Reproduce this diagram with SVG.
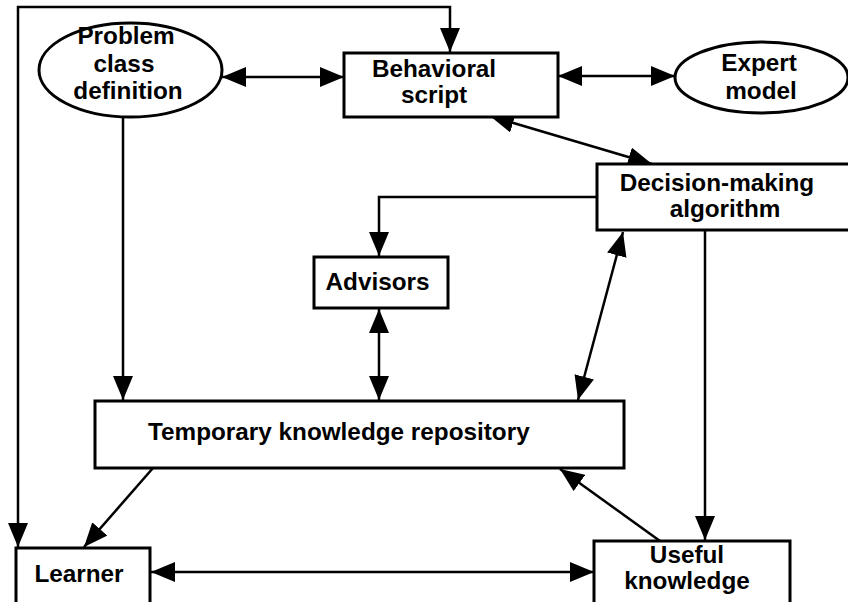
<svg xmlns="http://www.w3.org/2000/svg" width="848" height="602" viewBox="0 0 848 602">
<style>
.box{fill:#fff;stroke:#000;stroke-width:3}
.lbl{font-family:"Liberation Sans",Arial,sans-serif;font-weight:bold;font-size:24.3px;fill:#000;text-anchor:middle}
.con{fill:none;stroke:#000;stroke-width:2.5}
.a1{marker-end:url(#ah)}
.a2{marker-start:url(#ah);marker-end:url(#ah)}
</style>
<defs>
<marker id="ah" viewBox="0 0 24 20" refX="24" refY="10" markerWidth="24" markerHeight="20" markerUnits="userSpaceOnUse" orient="auto-start-reverse">
<path d="M0,0 L24,10 L0,20 z" fill="#000"/>
</marker>
</defs>
<rect width="848" height="602" fill="#fff"/>
<g id="connectors">
<path class="con a2" d="M450,52 L450,7 L18,7 L18,547"/>
<path class="con a2" d="M222,77 L344,77"/>
<path class="con a2" d="M558,76 L675,76"/>
<path class="con a2" d="M490,116 L652,164"/>
<path class="con a1" d="M597,197 L379,197 L379,256"/>
<path class="con a2" d="M379,309 L379,400"/>
<path class="con a2" d="M623,232 L578,400"/>
<path class="con a1" d="M123,117 L123,400"/>
<path class="con a1" d="M153,468 L84,547"/>
<path class="con a1" d="M705,230 L705,540"/>
<path class="con a1" d="M660,541 L560,469"/>
<path class="con a2" d="M151,572 L594,572"/>
</g>
<g id="problem">
<ellipse class="box" cx="130.5" cy="70" rx="91.5" ry="47"/>
<text class="lbl" x="126" y="44">Problem</text>
<text class="lbl" x="124" y="72">class</text>
<text class="lbl" x="128" y="99">definition</text>
</g>
<g id="behavioral">
<rect class="box" x="344" y="53" width="214" height="64"/>
<text class="lbl" x="434" y="77">Behavioral</text>
<text class="lbl" x="434" y="103">script</text>
</g>
<g id="expert">
<ellipse class="box" cx="761.5" cy="77.5" rx="86.5" ry="35.5"/>
<text class="lbl" x="759" y="71">Expert</text>
<text class="lbl" x="761" y="99">model</text>
</g>
<g id="decision">
<rect class="box" x="597" y="164" width="270" height="66"/>
<text class="lbl" x="717" y="191">Decision-making</text>
<text class="lbl" x="725" y="217">algorithm</text>
</g>
<g id="advisors">
<rect class="box" x="314" y="257" width="134" height="51"/>
<text class="lbl" x="377.5" y="290">Advisors</text>
</g>
<g id="temporary">
<rect class="box" x="95" y="401" width="529" height="67"/>
<text class="lbl" x="148" y="440" style="text-anchor:start">Temporary knowledge repository</text>
</g>
<g id="learner">
<rect class="box" x="16" y="548" width="134" height="70"/>
<text class="lbl" x="79" y="582">Learner</text>
</g>
<g id="useful">
<rect class="box" x="594" y="541" width="196" height="77"/>
<text class="lbl" x="687" y="563">Useful</text>
<text class="lbl" x="687" y="589">knowledge</text>
</g>
</svg>
